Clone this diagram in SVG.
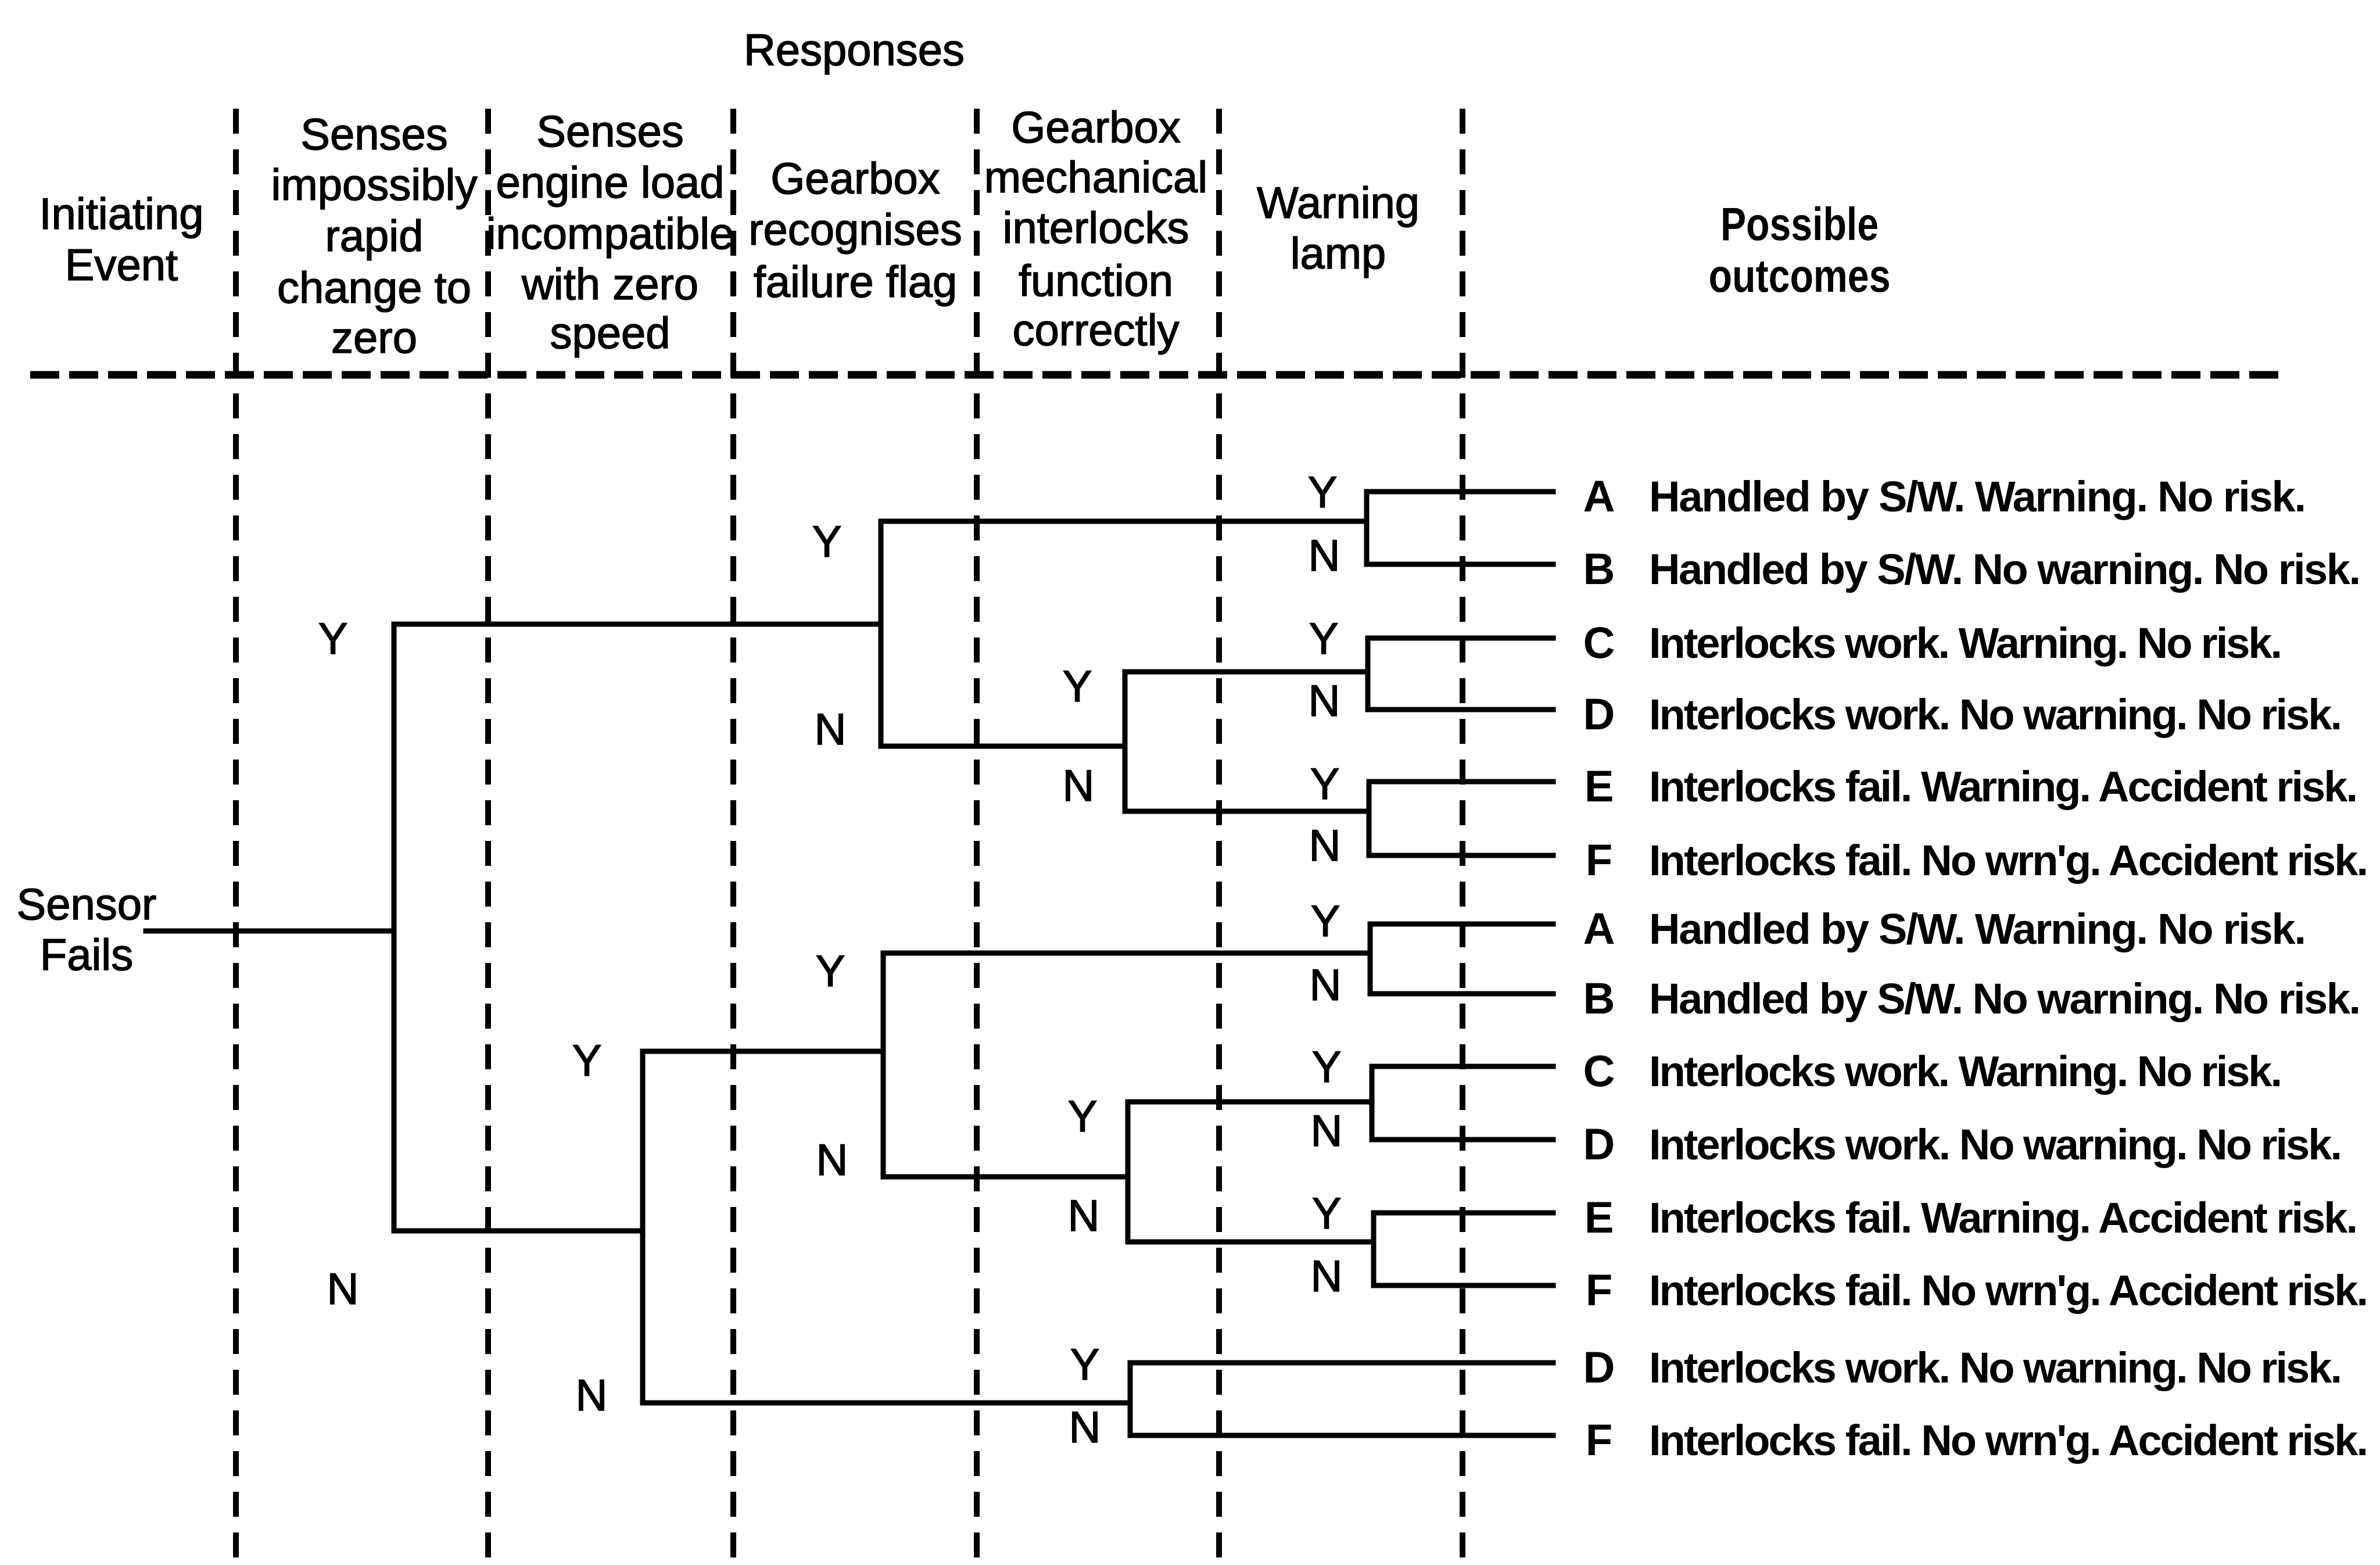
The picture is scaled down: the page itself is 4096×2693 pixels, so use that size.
<svg xmlns="http://www.w3.org/2000/svg" width="4096" height="2693" viewBox="0 0 4096 2693">
<style>
.t{font-family:"Liberation Sans",Arial,Helvetica,sans-serif;font-size:76px;text-anchor:middle;fill:#000;stroke:#000;stroke-width:1.5}
.yn{font-family:"Liberation Sans",Arial,Helvetica,sans-serif;font-size:76px;text-anchor:middle;fill:#000;stroke:#000;stroke-width:1.5}
.hb{font-family:"Liberation Sans",Arial,sans-serif;font-size:80px;font-weight:bold;text-anchor:middle;fill:#000}
.ol{font-family:"Liberation Sans",Arial,Helvetica,sans-serif;font-size:76px;font-weight:bold;text-anchor:middle;fill:#000}
.ot{font-family:"Liberation Sans",Arial,sans-serif;font-size:74px;font-weight:bold;fill:#000}
.sol{stroke:#000;stroke-width:9;fill:none;stroke-linecap:square;stroke-linejoin:miter}
.dv{stroke:#000;stroke-width:10;stroke-dasharray:43 27;fill:none}
.dh{stroke:#000;stroke-width:13;stroke-dasharray:50 17;fill:none}
</style>
<rect width="4096" height="2693" fill="#fff"/>
<g id="grid">
<line class="dv" x1="406" y1="187" x2="406" y2="2693"/>
<line class="dv" x1="840" y1="187" x2="840" y2="2693"/>
<line class="dv" x1="1262" y1="187" x2="1262" y2="2693"/>
<line class="dv" x1="1681" y1="187" x2="1681" y2="2693"/>
<line class="dv" x1="2098" y1="187" x2="2098" y2="2693"/>
<line class="dv" x1="2517" y1="187" x2="2517" y2="2693"/>
<line class="dh" x1="52" y1="645" x2="3927" y2="645"/>
</g>
<g id="headers">
<text class="t" x="1470" y="112">Responses</text>
<g id="h-initiating"><text class="t" x="209" y="394">Initiating</text><text class="t" x="209" y="482">Event</text></g>
<g id="h-col1"><text class="t" x="644" y="257">Senses</text><text class="t" x="644" y="344">impossibly</text><text class="t" x="644" y="432">rapid</text><text class="t" x="644" y="521">change to</text><text class="t" x="644" y="607">zero</text></g>
<g id="h-col2"><text class="t" x="1050" y="252">Senses</text><text class="t" x="1050" y="340">engine load</text><text class="t" x="1050" y="428">incompatible</text><text class="t" x="1050" y="515">with zero</text><text class="t" x="1050" y="599">speed</text></g>
<g id="h-col3"><text class="t" x="1472" y="333">Gearbox</text><text class="t" x="1472" y="421">recognises</text><text class="t" x="1472" y="511">failure flag</text></g>
<g id="h-col4"><text class="t" x="1886" y="245">Gearbox</text><text class="t" x="1886" y="331">mechanical</text><text class="t" x="1886" y="418">interlocks</text><text class="t" x="1886" y="509">function</text><text class="t" x="1886" y="594">correctly</text></g>
<g id="h-col5"><text class="t" x="2303" y="375">Warning</text><text class="t" x="2303" y="462">lamp</text></g>
<g id="h-outcomes"><text class="hb" x="3097" y="413" textLength="272" lengthAdjust="spacingAndGlyphs">Possible</text><text class="hb" x="3097" y="502" textLength="313" lengthAdjust="spacingAndGlyphs">outcomes</text></g>
</g>
<g id="initiating-event"><text class="t" x="149" y="1582">Sensor</text><text class="t" x="149" y="1669">Fails</text></g>
<g id="connectors">
<path class="sol" d="M251 1602H678 M678 1074V2118 M678 1074H1516 M678 2118H1106
M1516 897V1284 M1516 897H2352 M2352 846V971 M2352 846H2673 M2352 971H2673
M1516 1284H1936 M1936 1156V1396 M1936 1156H2354 M2354 1098V1221 M2354 1098H2673 M2354 1221H2673
M1936 1396H2356 M2356 1345V1472 M2356 1345H2673 M2356 1472H2673
M1106 1809V2414 M1106 1809H1520 M1520 1640V2025 M1520 1640H2358 M2358 1590V1710 M2358 1590H2673 M2358 1710H2673
M1520 2025H1941 M1941 1896V2137 M1941 1896H2361 M2361 1835V1961 M2361 1835H2673 M2361 1961H2673
M1941 2137H2364 M2364 2087V2212 M2364 2087H2673 M2364 2212H2673
M1106 2414H1945 M1945 2345V2470 M1945 2345H2673 M1945 2470H2673"/>
</g>
<g id="branch-labels">
<text class="yn" x="573" y="1125">Y</text><text class="yn" x="590" y="2244">N</text>
<text class="yn" x="1423" y="958">Y</text><text class="yn" x="1429" y="1281">N</text>
<text class="yn" x="2276" y="873">Y</text><text class="yn" x="2279" y="982">N</text>
<text class="yn" x="1854" y="1207">Y</text><text class="yn" x="1856" y="1378">N</text>
<text class="yn" x="2278" y="1125">Y</text><text class="yn" x="2279" y="1232">N</text>
<text class="yn" x="2280" y="1375">Y</text><text class="yn" x="2280" y="1481">N</text>
<text class="yn" x="1010" y="1851">Y</text><text class="yn" x="1018" y="2427">N</text>
<text class="yn" x="1429" y="1697">Y</text><text class="yn" x="1432" y="2022">N</text>
<text class="yn" x="2281" y="1611">Y</text><text class="yn" x="2281" y="1721">N</text>
<text class="yn" x="1863" y="1947">Y</text><text class="yn" x="1865" y="2118">N</text>
<text class="yn" x="2283" y="1862">Y</text><text class="yn" x="2283" y="1972">N</text>
<text class="yn" x="2283" y="2114">Y</text><text class="yn" x="2283" y="2222">N</text>
<text class="yn" x="1867" y="2374">Y</text><text class="yn" x="1867" y="2482">N</text>
</g>
<g id="outcome-1A"><text class="ol" x="2752" y="880">A</text><text class="ot" x="2838" y="880" textLength="1131" lengthAdjust="spacing">Handled by S/W. Warning. No risk.</text></g>
<g id="outcome-1B"><text class="ol" x="2752" y="1005">B</text><text class="ot" x="2838" y="1005" textLength="1225" lengthAdjust="spacing">Handled by S/W. No warning. No risk.</text></g>
<g id="outcome-1C"><text class="ol" x="2752" y="1132">C</text><text class="ot" x="2838" y="1132" textLength="1090" lengthAdjust="spacing">Interlocks work. Warning. No risk.</text></g>
<g id="outcome-1D"><text class="ol" x="2752" y="1255">D</text><text class="ot" x="2838" y="1255" textLength="1193" lengthAdjust="spacing">Interlocks work. No warning. No risk.</text></g>
<g id="outcome-1E"><text class="ol" x="2752" y="1379">E</text><text class="ot" x="2838" y="1379" textLength="1220" lengthAdjust="spacing">Interlocks fail. Warning. Accident risk.</text></g>
<g id="outcome-1F"><text class="ol" x="2752" y="1506">F</text><text class="ot" x="2838" y="1506" textLength="1238" lengthAdjust="spacing">Interlocks fail. No wrn'g. Accident risk.</text></g>
<g id="outcome-2A"><text class="ol" x="2752" y="1624">A</text><text class="ot" x="2838" y="1624" textLength="1131" lengthAdjust="spacing">Handled by S/W. Warning. No risk.</text></g>
<g id="outcome-2B"><text class="ol" x="2752" y="1744">B</text><text class="ot" x="2838" y="1744" textLength="1225" lengthAdjust="spacing">Handled by S/W. No warning. No risk.</text></g>
<g id="outcome-2C"><text class="ol" x="2752" y="1869">C</text><text class="ot" x="2838" y="1869" textLength="1090" lengthAdjust="spacing">Interlocks work. Warning. No risk.</text></g>
<g id="outcome-2D"><text class="ol" x="2752" y="1995">D</text><text class="ot" x="2838" y="1995" textLength="1193" lengthAdjust="spacing">Interlocks work. No warning. No risk.</text></g>
<g id="outcome-2E"><text class="ol" x="2752" y="2121">E</text><text class="ot" x="2838" y="2121" textLength="1220" lengthAdjust="spacing">Interlocks fail. Warning. Accident risk.</text></g>
<g id="outcome-2F"><text class="ol" x="2752" y="2246">F</text><text class="ot" x="2838" y="2246" textLength="1238" lengthAdjust="spacing">Interlocks fail. No wrn'g. Accident risk.</text></g>
<g id="outcome-3D"><text class="ol" x="2752" y="2379">D</text><text class="ot" x="2838" y="2379" textLength="1193" lengthAdjust="spacing">Interlocks work. No warning. No risk.</text></g>
<g id="outcome-3F"><text class="ol" x="2752" y="2504">F</text><text class="ot" x="2838" y="2504" textLength="1238" lengthAdjust="spacing">Interlocks fail. No wrn'g. Accident risk.</text></g>
</svg>
